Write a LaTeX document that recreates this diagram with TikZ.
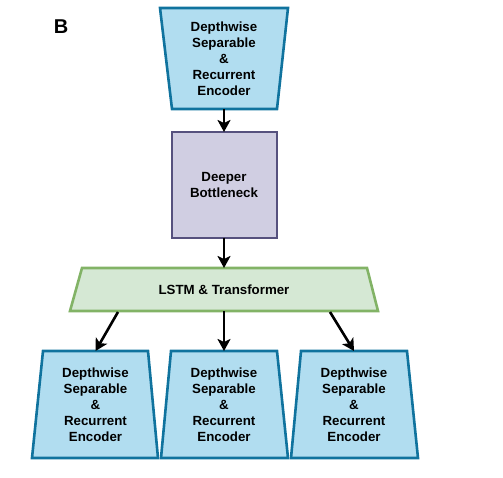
\documentclass[tikz,border=0pt]{standalone}
\usepackage{fontspec}
\setmainfont{Liberation Sans}
\usetikzlibrary{arrows.meta}
\definecolor{bluefill}{HTML}{B1DDF0}
\definecolor{bluedraw}{HTML}{10739E}
\definecolor{purpfill}{HTML}{D0CEE2}
\definecolor{purpdraw}{HTML}{56517E}
\definecolor{grnfill}{HTML}{D5E8D4}
\definecolor{grndraw}{HTML}{82B366}
\begin{document}
\begin{tikzpicture}[x=1pt,y=-1pt,
  lbl/.style={inner sep=0pt,outer sep=0pt,align=center,font=\bfseries\fontsize{13.3}{16}\selectfont},
  encshape/.style={fill=bluefill,draw=bluedraw,line width=2.6pt,line join=miter},
  conn/.style={line width=2.6pt,-{Stealth[length=12pt,width=13pt,inset=3pt]}}]
\useasboundingbox (0,0) rectangle (503,478);
% label
\node[font=\bfseries\fontsize{20}{24}\selectfont] (B) at (61,27) {B};
% top encoder
\filldraw[encshape] (160,8) -- (288,8) -- (277,109) -- (172,109) -- cycle;
\node[lbl,minimum width=128pt,minimum height=101pt] (enc) at (224,58.5)
  {Depthwise\\Separable\\\&\\Recurrent\\Encoder};
% bottleneck
\filldraw[fill=purpfill,draw=purpdraw,line width=2.6pt] (172,132) rectangle (277,238);
\node[lbl,minimum width=105pt,minimum height=106pt] (bn) at (224,185) {Deeper\\Bottleneck};
% LSTM
\filldraw[fill=grnfill,draw=grndraw,line width=2.6pt] (82,268) -- (367,268) -- (378,311) -- (70,311) -- cycle;
\node[lbl,minimum width=308pt,minimum height=43pt] (lstm) at (224,289.5) {LSTM \& Transformer};
% bottom encoders
\filldraw[encshape] (43,351) -- (148,351) -- (158,458) -- (32,458) -- cycle;
\node[lbl,minimum width=126pt,minimum height=107pt] (e1) at (95.5,404.5)
  {Depthwise\\Separable\\\&\\Recurrent\\Encoder};
\filldraw[encshape] (171,351) -- (277,351) -- (288,458) -- (161,458) -- cycle;
\node[lbl,minimum width=127pt,minimum height=107pt] (e2) at (224,404.5)
  {Depthwise\\Separable\\\&\\Recurrent\\Encoder};
\filldraw[encshape] (301,351) -- (407,351) -- (418,458) -- (291,458) -- cycle;
\node[lbl,minimum width=127pt,minimum height=107pt] (e3) at (354,404.5)
  {Depthwise\\Separable\\\&\\Recurrent\\Encoder};
% connectors
\coordinate (ls1) at (118,312);
\coordinate (ls3) at (330,312);
\draw[conn] (enc.south) -- (bn.north);
\draw[conn] (bn.south) -- (lstm.north);
\draw[conn] (ls1) -- (e1.north);
\draw[conn] (lstm.south) -- (e2.north);
\draw[conn] (ls3) -- (e3.north);
\end{tikzpicture}
\end{document}
